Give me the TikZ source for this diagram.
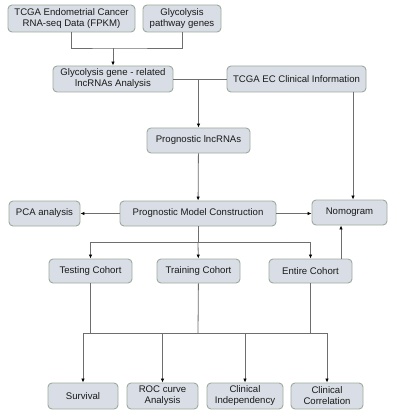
\documentclass[tikz,border=0pt]{standalone}
\usepackage{fontspec}
\setmainfont{Liberation Sans}
\usetikzlibrary{arrows.meta}
\definecolor{boxfill}{HTML}{D9DEE6}
\definecolor{boxline}{HTML}{9CAB99}
\definecolor{lnk}{HTML}{6E6E6E}
\begin{document}
\begin{tikzpicture}[x=1pt,y=-1pt,
  box/.style={draw=boxline, fill=boxfill, line width=0.9pt, rounded corners=4pt,
    inner sep=0pt, align=center, font=\fontsize{9.6}{11}\selectfont, text=black!90},
  lk/.style={draw=lnk, line width=0.8pt},
  ar/.style={lk, arrows={-{Latex[length=4pt,width=3.5pt,color=black]}}}]
\useasboundingbox (0,0) rectangle (400,414);
\fill[white] (0,0) rectangle (400,414);
% nodes
\node[box, minimum width=127, minimum height=27] (b1) at (71.5,18.5) {TCGA Endometrial Cancer\\RNA-seq Data (FPKM)};
\node[box, minimum width=78, minimum height=27] (b2) at (182,18.5) {Glycolysis\\pathway genes};
\node[box, minimum width=120, minimum height=26] (b3) at (113,79) {Glycolysis gene -  related\\lncRNAs  Analysis};
\node[box, minimum width=139, minimum height=26] (b4) at (296.5,79) {TCGA EC Clinical Information};
\node[box, minimum width=103, minimum height=25] (b5) at (198.5,140.5) {Prognostic lncRNAs};
\node[box, minimum width=71, minimum height=25] (b6) at (44.5,213.5) {PCA analysis};
\node[box, minimum width=156, minimum height=25] (b7) at (198,213.5) {Prognostic Model Construction};
\node[box, minimum width=75, minimum height=25] (b8) at (349.5,212.5) {Nomogram};
\node[box, minimum width=83, minimum height=24] (c1) at (90.5,271) {Testing Cohort};
\node[box, minimum width=83, minimum height=24] (c2) at (198.5,271) {Training Cohort};
\node[box, minimum width=83, minimum height=24] (c3) at (310.5,271) {Entire Cohort};
\node[box, minimum width=70, minimum height=26] (d1) at (83,396) {Survival};
\node[box, minimum width=71, minimum height=26] (d2) at (162.5,396) {ROC curve\\Analysis};
\node[box, minimum width=76, minimum height=26] (d3) at (245,396) {Clinical\\Independency};
\node[box, minimum width=72, minimum height=26] (d4) at (327,396) {Clinical\\Correlation};
% junctions
\coordinate (j1) at (113,48);
\coordinate (j2) at (198.5,79);
\coordinate (j3) at (198,242);
\coordinate (j4) at (198,333);
\coordinate (n1) at (353,92);
\coordinate (n2) at (341,259);
% connectors
\draw[lk] (b1) |- (j1) -| (b2);
\draw[ar] (j1) -- (b3);
\draw[lk] (b3) -- (b4);
\draw[ar] (j2) -- (b5);
\draw[ar] (b5) -- (b7);
\draw[ar] (n1) -- (n1 |- b8.north);
\draw[ar] (b7) -- (b6);
\draw[ar] (b7.east) -- (b8.west |- b7.east);
\draw[lk] (b7) -- (j3);
\draw[ar] (j3) -| (c1);
\draw[ar] (j3) -| (c3);
\draw[ar] (j3) -- (c2);
\draw[ar] (n2) -- (n2 |- b8.south);
\draw[lk] (c1) |- (j4);
\draw[lk] (c3) |- (j4);
\draw[lk] (c2) -- (j4);
\draw[ar] (j4) -| (d1);
\draw[ar] (j4) -| (d4);
\draw[ar] (d2 |- j4) -- (d2);
\draw[ar] (d3 |- j4) -- (d3);
\end{tikzpicture}
\end{document}
